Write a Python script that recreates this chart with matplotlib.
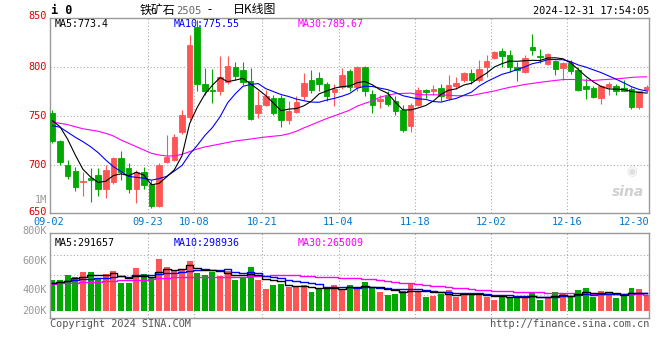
import matplotlib
matplotlib.use('Agg')
import matplotlib.pyplot as plt
import numpy as np

# ---------------- data ----------------
tick_idx = [0, 13, 19, 28, 38, 48, 58, 68, 78]
tick_labels = ['09-02', '09-23', '10-08', '10-21', '11-04', '11-18', '12-02', '12-16', '12-30']

opens = [753, 724, 700, 694, 683, 687, 690, 675, 683, 707, 697, 675, 693, 681, 658, 703, 705, 734, 749, 841,
         783, 777, 776, 785, 800, 797, 786, 753, 761, 768, 768, 746, 754, 770, 787, 789, 783, 774, 780, 796,
         780, 800, 772, 765, 770, 765, 756, 740, 761, 776.5, 775, 779, 768, 781, 787, 794, 787, 800, 809, 816,
         812, 800, 795, 820, 811, 803, 806, 799, 804, 797, 781, 779, 768, 780, 781, 779, 778, 759, 777]
highs = [756, 725, 705, 698, 693, 697, 697, 700, 708, 714, 702, 695, 698, 685, 702, 731, 732, 756, 833, 848,
         799, 798, 811, 811, 805, 805, 799, 775, 777, 771, 771, 765, 770, 794, 797, 795, 785, 783, 799, 798,
         801, 801, 777, 771, 775, 770, 761, 763, 780, 778, 782, 783, 792, 790, 795, 798, 807, 812, 816, 819,
         817, 805, 812, 834, 818, 814, 807, 805, 807, 800, 789, 781, 782, 785, 783, 787, 780, 776, 782]
lows = [722, 700, 686, 673, 668, 662, 668, 666, 681, 685, 671, 661, 676, 656, 657, 702, 704, 732, 746, 775,
        771, 763, 771, 783, 787, 782, 746, 748, 760, 751, 739, 742, 753, 766, 773, 776, 765, 760, 778, 775,
        775, 770, 753, 758, 760, 751, 734, 734, 760, 768, 771, 765, 766, 778, 785, 783, 785, 790, 808, 800,
        795, 786, 794, 812, 804, 802, 792, 787, 793, 776, 767, 768, 762, 771, 771, 775, 757, 757, 773]
closes = [724, 703, 689, 678, 684, 685, 675, 695, 707, 693, 675, 693, 680, 658, 700, 708.5, 729, 751, 822, 783,
          776, 775, 790, 801, 791, 785, 747, 761, 770, 753, 746, 755, 764, 784, 777, 783, 770, 778, 792, 780,
          800, 776, 761, 767, 762, 755, 736, 761, 777, 774.5, 778, 770, 782, 784, 794, 787, 798, 806, 815, 811,
          800, 797, 809, 817, 810, 813, 798, 804, 796, 777, 778, 769, 781, 783, 776, 776, 759, 776, 780]
# volume in thousands of lots
volumes = [469, 469, 503, 492, 524, 524, 480, 510, 531, 448, 448, 552, 510, 492, 614, 559, 531, 545, 598, 517,
           503, 524, 497, 531, 469, 490, 559, 469, 407, 434, 443, 421, 421, 432, 386, 412, 412, 434, 405, 434,
           405, 455, 418, 386, 366, 372, 395, 441, 395, 352, 359, 372, 400, 352, 372, 372, 366, 352, 331, 359,
           354, 359, 349, 377, 331, 349, 386, 382, 349, 400, 414, 352, 393, 377, 345, 359, 414, 407, 366]

# moving-average values read where the window reaches before the first candle
ma5_head = [745.2, 739.0, 726.2, 710.2]
ma10_head = [740.1, 738.5, 733.4, 728.3, 723.8, 718.7, 712.6, 705.1, 698.3]
ma30_head = [743.9, 742.5, 741.2, 739.0, 737.0, 735.7, 734.4, 732.3, 729.6, 725.5, 722.1, 718.7, 715.3, 711.9,
             710.2, 709.2, 709.2, 710.9, 713.6, 716.3, 718.4, 719.9, 721.4, 723.0, 724.5, 725.5, 726.5, 727.6,
             728.6]
vma5_head = [446, 453, 464, 480]
vma10_head = [450, 457, 462, 467, 474, 476, 480, 485, 490]
vma30_head = [443, 446, 448, 450, 453, 455, 457, 460, 464, 467, 467, 469, 469, 476, 485, 485, 487, 490, 492,
              492, 492, 492, 492, 492, 492, 492, 494, 494, 497]


def moving_avg(vals, n, head):
    v = np.asarray(vals, dtype=float)
    out = np.empty(len(v))
    out[:n - 1] = head
    out[n - 1:] = np.convolve(v, np.ones(n) / n, mode='valid')
    return out


o = np.array(opens, float)
h = np.array(highs, float)
l = np.array(lows, float)
c = np.array(closes, float)
vol = np.array(volumes, float)
idx = np.arange(len(c))

ma5 = moving_avg(c, 5, ma5_head)
ma10 = moving_avg(c, 10, ma10_head)
ma30 = moving_avg(c, 30, ma30_head)
vma5 = moving_avg(vol, 5, vma5_head)
vma10 = moving_avg(vol, 10, vma10_head)
vma30 = moving_avg(vol, 30, vma30_head)

RED = '#FF5555'
GREEN = '#00A800'
cols = [RED if cc >= oo else GREEN for oo, cc in zip(o, c)]

W, H = 660, 360
fig = plt.figure(figsize=(W / 100, H / 100), dpi=100)
fig.patch.set_facecolor('white')


def P(x, y):
    return x / W, 1 - y / H


MONO = 'DejaVu Sans Mono'
CJK = ['Noto Sans CJK SC', 'DejaVu Sans']
GRID = '#AAAAAA'
SPINE = '#999999'

XL = (-0.32, 78.3)

# ---------------- main K-line panel ----------------
ax = fig.add_axes([50 / W, (H - 213) / H, 599 / W, 195 / H])
ax.set_xlim(*XL)
ax.set_ylim(651, 850)
for s in ax.spines.values():
    s.set_color(SPINE)
    s.set_linewidth(1.0)
ax.set_xticks([])
ax.set_yticks([])

for yv in [700, 750, 800]:
    ax.axhline(yv, color=GRID, lw=0.8, ls=(0, (1, 2)), zorder=0)
for t in tick_idx[1:-1]:
    ax.axvline(t - 0.45, color=GRID, lw=0.8, ls=(0, (1, 2)), zorder=0)

ax.vlines(idx, l, h, colors=cols, lw=0.8, zorder=2)
body_b = np.minimum(o, c)
body_h = np.abs(c - o)
ax.bar(idx, body_h, bottom=body_b, width=0.72, color=cols, edgecolor=cols, linewidth=0.6, zorder=3)

ax.plot(idx, ma30, color='#FF00FF', lw=0.8, zorder=4)
ax.plot(idx, ma10, color='#0000FF', lw=0.8, zorder=4)
ax.plot(idx, ma5, color='black', lw=0.8, zorder=4)

# ---------------- volume panel ----------------
axv = fig.add_axes([50 / W, (H - 318) / H, 599 / W, 85 / H])
axv.set_xlim(*XL)
axv.set_ylim(206.9, 793.1)
for s in axv.spines.values():
    s.set_color(SPINE)
    s.set_linewidth(1.0)
axv.set_xticks([])
axv.set_yticks([])
for yv in [641, 503, 366]:
    axv.axhline(yv, color=GRID, lw=0.8, ls=(0, (1, 2)), zorder=0)
for t in tick_idx[1:-1]:
    axv.axvline(t - 0.45, color=GRID, lw=0.8, ls=(0, (1, 2)), zorder=0)
base = 255.2
axv.bar(idx, vol - base, bottom=base, width=0.78, color=cols, linewidth=0, zorder=2)
axv.plot(idx, vma30, color='#FF00FF', lw=1.0, drawstyle='steps-mid', zorder=3)
axv.plot(idx, vma10, color='#0000FF', lw=1.0, drawstyle='steps-mid', zorder=3)
axv.plot(idx, vma5, color='black', lw=1.0, drawstyle='steps-mid', zorder=3)

# ---------------- texts ----------------
fig.text(*P(51, 11), 'i 0', fontsize=8.5, fontweight='bold', family=MONO, ha='left', va='center')
fig.text(*P(140, 10), '铁矿石', fontsize=8.6, family=CJK, ha='left', va='center', color='black')
fig.text(*P(176.5, 10.5), '2505', fontsize=7.6, family=MONO, ha='left', va='center', color='#666666')
fig.text(*P(207, 10), '-', fontsize=8.6, family=CJK, ha='left', va='center', color='black')
fig.text(*P(233, 10), '日K线图', fontsize=8.6, family=CJK, ha='left', va='center', color='black')
fig.text(*P(649, 11.5), '2024-12-31 17:54:05', fontsize=7.4, family=MONO, ha='right', va='center')

for lab, yy in [('850', 16), ('800', 67), ('750', 116), ('700', 165), ('650', 212)]:
    fig.text(*P(47, yy), lab, fontsize=7.4, family=MONO, ha='right', va='center', color='#E00000')
fig.text(*P(47, 200), '1M', fontsize=7.4, family=MONO, ha='right', va='center', color='#999999')

fig.text(*P(55, 24), 'MA5:%.1f' % ma5[-1], fontsize=7.2, family=MONO, ha='left', va='center', color='black')
fig.text(*P(174, 24), 'MA10:775.55', fontsize=7.2, family=MONO, ha='left', va='center', color='#0000FF')
fig.text(*P(298, 24), 'MA30:789.67', fontsize=7.2, family=MONO, ha='left', va='center', color='#FF00FF')

for t, lab in zip(tick_idx, tick_labels):
    xf = 50 + (t - 0.45 - XL[0]) * 599 / (XL[1] - XL[0])
    if lab == '12-30':
        fig.text(*P(649, 222), lab, fontsize=7.4, family=MONO, ha='right', va='center', color='#0077CC')
    else:
        fig.text(*P(xf, 222), lab, fontsize=7.4, family=MONO, ha='center', va='center', color='#0077CC')

fig.text(*P(55, 243), 'MA5:291657', fontsize=7.2, family=MONO, ha='left', va='center', color='black')
fig.text(*P(174, 243), 'MA10:298936', fontsize=7.2, family=MONO, ha='left', va='center', color='#0000FF')
fig.text(*P(298, 243), 'MA30:265009', fontsize=7.2, family=MONO, ha='left', va='center', color='#FF00FF')

for lab, yy in [('800K', 231), ('600K', 261), ('400K', 290), ('200K', 311)]:
    fig.text(*P(47, yy), lab, fontsize=7.4, family=MONO, ha='right', va='center', color='#999999')

fig.text(*P(50, 324), 'Copyright 2024 SINA.COM', fontsize=7.4, family=MONO, ha='left', va='center', color='#555555')
fig.text(*P(649, 324), 'http://finance.sina.com.cn', fontsize=7.4, family=MONO, ha='right', va='center', color='#555555')

fig.text(*P(628, 192), 'sina', fontsize=10, fontweight='bold', fontstyle='italic', family='DejaVu Sans',
         ha='center', va='center', color='#D0D0D0')
fig.text(*P(632, 172), '◉', fontsize=9, family='DejaVu Sans', ha='center', va='center', color='#E0E0E0')

fig.savefig('out.png', dpi=100, facecolor='white')
